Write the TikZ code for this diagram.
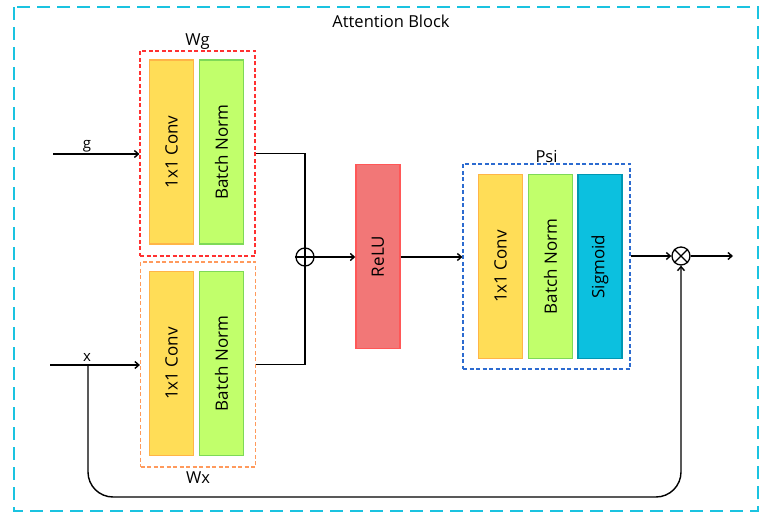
\documentclass[tikz,border=0pt]{standalone}
\usepackage{fontspec}
\setmainfont{Open Sans}
\usetikzlibrary{arrows.meta}

\definecolor{blockline}{HTML}{1AC3E0}
\definecolor{convfill}{HTML}{FFDD57}
\definecolor{convline}{HTML}{FFB547}
\definecolor{bnfill}{HTML}{C1FF6B}
\definecolor{bnline}{HTML}{7ED957}
\definecolor{relufill}{HTML}{F27777}
\definecolor{reluline}{HTML}{FF5757}
\definecolor{sigfill}{HTML}{0CC0DF}
\definecolor{sigline}{HTML}{0097B2}
\definecolor{wgline}{HTML}{FF3131}
\definecolor{wxline}{HTML}{FF9A5C}
\definecolor{psiline}{HTML}{2C6BD0}

\begin{document}
\begin{tikzpicture}[x=1pt, y=-1pt,
        every node/.style={font=\fontsize{16.5}{19}\selectfont},
        layer/.style={draw, line width=1.4pt, rotate=90, inner sep=0pt,
            minimum width=184, minimum height=44, font=\fontsize{17}{19}\selectfont},
        conv/.style={layer, fill=convfill, draw=convline},
        bn/.style={layer, fill=bnfill, draw=bnline},
        group/.style={draw, line width=1.2pt, dash pattern=on 4pt off 2.5pt,
            inner sep=0pt, minimum width=115, minimum height=205},
        wire/.style={line width=1.4pt},
        flow/.style={wire, -{Straight Barb[length=4pt, width=7pt]}},
        op/.style={circle, draw, line width=1.3pt, minimum size=18, inner sep=0pt},
        inlabel/.style={font=\fontsize{15}{17}\selectfont, inner sep=1pt}
    ]

\useasboundingbox (0,0) rectangle (761,513);

% outer block
\draw[blockline, line width=2.8pt, dash pattern=on 13pt off 7pt] (14,7) rectangle (758,511);
\node (title) at (391,21) {Attention Block};

% Wg and Wx branches
\node[group, draw=wgline, label={[inner sep=1pt]above:Wg}] (Wg) at (197.5,153.5) {};
\node[conv] (convg) at (171.5,152) {1x1 Conv};
\node[bn]   (bng)   at (221.5,152) {Batch Norm};

\node[group, draw=wxline, label={[inner sep=4pt]below:Wx}] (Wx) at (198,364.5) {};
\node[conv] (convx) at (171.5,363.5) {1x1 Conv};
\node[bn]   (bnx)   at (221.5,363.5) {Batch Norm};

% inputs
\coordinate (gin) at (53,154);
\coordinate (xin) at (50,365);
\coordinate (xsplit) at (88,365);
\node[inlabel, anchor=base] (glabel) at (87,149) {g};
\node[inlabel, anchor=base] (xlabel) at (87,361) {x};
\draw[flow] (gin) -- (Wg.west |- gin);
\draw[flow] (xin) -- (Wx.west |- xin);

% add + relu
\node[op] (add) at (305,257) {};
\draw[wire] (add.north) -- (add.south) (add.west) -- (add.east);
\draw[wire] (Wg.east) -| (add.north);
\draw[wire] (Wx.east) -| (add.south);

\node[layer, fill=relufill, draw=reluline, minimum width=184] (relu) at (378,256.5) {ReLU};
\draw[flow] (add.east) -- (relu.north |- add.east);

% Psi
\node[group, draw=psiline, minimum width=167, label={[inner sep=1pt]above:Psi}] (Psi) at (546.5,266.5) {};
\node[conv] (convp) at (500.5,266.5) {1x1 Conv};
\node[bn]   (bnp)   at (550.5,266.5) {Batch Norm};
\node[layer, fill=sigfill, draw=sigline] (sig) at (600,266.5) {Sigmoid};
\draw[flow] (relu.south |- add.east) -- (Psi.west |- add.east);

% multiply + output
\node[op] (mul) at (681,256) {};
\draw[wire] (mul.north west) -- (mul.south east) (mul.north east) -- (mul.south west);
\draw[flow] (Psi.east |- mul.west) -- (mul.west);
\coordinate (out) at (733,256);
\draw[flow] (mul.east) -- (out);

% skip connection
\coordinate (skip) at (681,497);
\draw[flow, rounded corners=25pt] (xsplit) |- (skip) -- (mul.south);

\end{tikzpicture}
\end{document}
